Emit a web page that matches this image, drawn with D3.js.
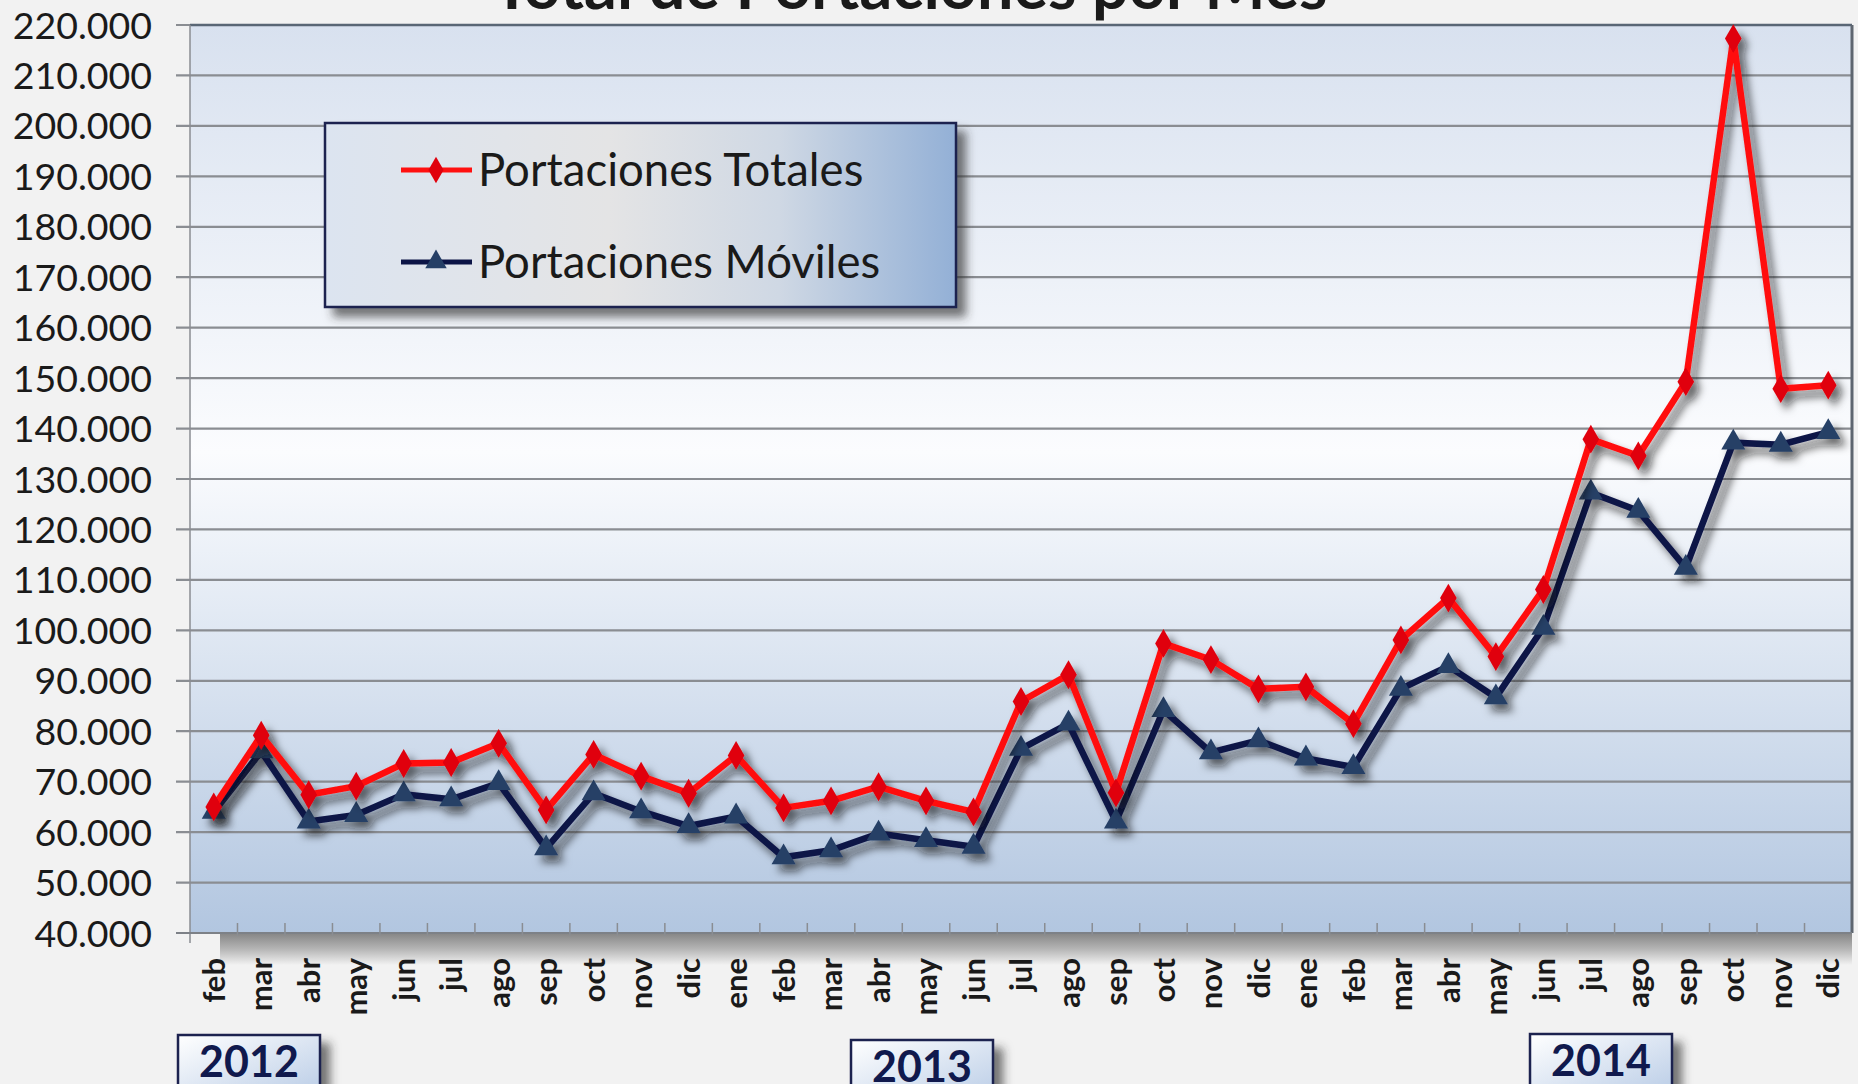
<!DOCTYPE html>
<html>
<head>
<meta charset="utf-8">
<script src="https://cdn.jsdelivr.net/npm/d3@7"></script>
<style>
  html, body { margin: 0; padding: 0; background: #f2f2f2; }
  svg { display: block; }
</style>
</head>
<body>
<svg id="chart" width="1858" height="1084"></svg>
<script>
// ---------- DATA ----------
const months = ["feb","mar","abr","may","jun","jul","ago","sep","oct","nov","dic",
                "ene","feb","mar","abr","may","jun","jul","ago","sep","oct","nov","dic",
                "ene","feb","mar","abr","may","jun","jul","ago","sep","oct","nov","dic"];
const categories = months.map((m, i) => i);
const totales = [65000, 79200, 67400, 69100, 73600, 73800, 77600, 64400, 75400, 71100, 67700,
                 75200, 64800, 66200, 69000, 66200, 64000, 85900, 91200, 67800, 97400, 94200, 88400,
                 88800, 81500, 98100, 106400, 94800, 108100, 137900, 134600, 149300, 217300, 147900, 148600];
const moviles = [64000, 76000, 62100, 63400, 67500, 66500, 69700, 56800, 67700, 64100, 61200,
                 63100, 55000, 56400, 59700, 58400, 57100, 76500, 81500, 62100, 84200, 75800, 78200,
                 74600, 72900, 88400, 92900, 86700, 100500, 127300, 123700, 112400, 137200, 136800, 139300];
const yTicks = [40000,50000,60000,70000,80000,90000,100000,110000,120000,130000,140000,
                150000,160000,170000,180000,190000,200000,210000,220000];
const yearLabels = ["2012","2013","2014"];
const seriesNames = ["Portaciones Totales","Portaciones Móviles"];
const titleText = "Total de Portaciones por Mes";

// ---------- LAYOUT ----------
const svg = d3.select("#chart");
const W = 1858, H = 1084;
const plot = {left: 190, right: 1852, top: 25, bottom: 933};

const x = d3.scaleBand().domain(categories).range([plot.left, plot.right]).padding(0);
const xc = i => x(i) + x.bandwidth() / 2;
const y = d3.scaleLinear().domain([40000, 220000]).range([plot.bottom, plot.top]);
const fmt = v => d3.format(",")(v).replace(/,/g, ".");

const defs = svg.append("defs");
const pg = defs.append("linearGradient").attr("id","plotGrad").attr("x1",0).attr("y1",0).attr("x2",0).attr("y2",1);
pg.append("stop").attr("offset","0").attr("stop-color","#d8e1ef");
pg.append("stop").attr("offset","0.47").attr("stop-color","#fbfcfe");
pg.append("stop").attr("offset","1").attr("stop-color","#b2c6e0");

const sg = defs.append("linearGradient").attr("id","shadowGrad").attr("x1",0).attr("y1",0).attr("x2",0).attr("y2",1);
sg.append("stop").attr("offset","0").attr("stop-color","#858585");
sg.append("stop").attr("offset","0.5").attr("stop-color","#b5b5b5");
sg.append("stop").attr("offset","1").attr("stop-color","#f2f2f2");

const lg = defs.append("linearGradient").attr("id","legGrad").attr("x1",0).attr("y1",0).attr("x2",1).attr("y2",0);
lg.append("stop").attr("offset","0").attr("stop-color","#dce4f0");
lg.append("stop").attr("offset","0.45").attr("stop-color","#e4e4e5");
lg.append("stop").attr("offset","0.72").attr("stop-color","#cfd8e4");
lg.append("stop").attr("offset","1").attr("stop-color","#93b0d6");

const yg = defs.append("linearGradient").attr("id","yearGrad").attr("x1",0).attr("y1",0).attr("x2",1).attr("y2",1);
yg.append("stop").attr("offset","0").attr("stop-color","#ffffff");
yg.append("stop").attr("offset","1").attr("stop-color","#b9cce6");

const ds = defs.append("filter").attr("id","lineShadow").attr("x","-10%").attr("y","-10%").attr("width","130%").attr("height","130%");
ds.append("feDropShadow").attr("dx",6).attr("dy",7).attr("stdDeviation",4).attr("flood-color","#111").attr("flood-opacity",0.65);

const bs = defs.append("filter").attr("id","boxShadow").attr("x","-10%").attr("y","-10%").attr("width","130%").attr("height","140%");
bs.append("feDropShadow").attr("dx",9).attr("dy",9).attr("stdDeviation",5).attr("flood-color","#333").attr("flood-opacity",0.65);

// background
svg.append("rect").attr("width",W).attr("height",H).attr("fill","#f2f2f2");

// title (mostly cut off at the top, as in the reference)
const title = svg.append("text").attr("x", 910).attr("y", 9).attr("text-anchor","middle")
  .attr("font-family","Lato, 'Open Sans', sans-serif").attr("font-weight","bold")
  .attr("font-size", 60).attr("fill","#1a1a1a").text(titleText);
{
  const L = title.node().getComputedTextLength();
  title.attr("font-size", 60 * 835 / L);
}

// plot shadow below axis
svg.append("rect").attr("x", plot.left + 30).attr("y", plot.bottom).attr("width", plot.right - plot.left - 30)
  .attr("height", 32).attr("fill","url(#shadowGrad)");

// plot area
svg.append("rect").attr("x", plot.left).attr("y", plot.top).attr("width", plot.right - plot.left)
  .attr("height", plot.bottom - plot.top).attr("fill","url(#plotGrad)");

// gridlines + y ticks
svg.append("g").selectAll("line").data(yTicks).join("line")
  .attr("x1", plot.left - 14).attr("x2", plot.right)
  .attr("y1", d => y(d)).attr("y2", d => y(d))
  .attr("stroke","#8a8d92").attr("stroke-width",2.2);

// plot borders
svg.append("line").attr("x1",plot.left).attr("x2",plot.right).attr("y1",plot.top).attr("y2",plot.top)
  .attr("stroke","#596675").attr("stroke-width",2.5);
svg.append("line").attr("x1",plot.right).attr("x2",plot.right).attr("y1",plot.top).attr("y2",plot.bottom)
  .attr("stroke","#5e6670").attr("stroke-width",3);
svg.append("line").attr("x1",plot.left).attr("x2",plot.left).attr("y1",plot.top).attr("y2",plot.bottom + 10)
  .attr("stroke","#8a8d92").attr("stroke-width",1.5);
svg.append("line").attr("x1",plot.left - 14).attr("x2",plot.right).attr("y1",plot.bottom).attr("y2",plot.bottom)
  .attr("stroke","#7d8187").attr("stroke-width",2);

// x ticks at band boundaries
svg.append("g").selectAll("line").data(categories.slice(1)).join("line")
  .attr("x1", d => x(d)).attr("x2", d => x(d))
  .attr("y1", plot.bottom - 10).attr("y2", plot.bottom + 3)
  .attr("stroke","#8a8d92").attr("stroke-width",1.5);

// y labels
svg.append("g").selectAll("text").data(yTicks).join("text")
  .attr("x", 152).attr("y", d => y(d)).attr("dy","0.36em")
  .attr("text-anchor","end")
  .attr("font-family","Lato, 'Open Sans', sans-serif").attr("font-size",37.5)
  .attr("fill","#1a1a1a").text(d => fmt(d));

// x labels
svg.append("g").selectAll("text").data(categories).join("text")
  .attr("transform", d => `translate(${xc(d)},958) rotate(-90)`)
  .attr("dy","0.36em").attr("text-anchor","end")
  .attr("font-family","Lato, 'Open Sans', sans-serif").attr("font-weight","bold").attr("font-size",31)
  .attr("fill","#1a1a1a").text(d => months[d]);

// series lines
const lineGen = d3.line().x((d, i) => xc(i)).y(d => y(d));
const series = [
  {values: totales, stroke: "#ff1010", marker: d3.symbolDiamond, mfill: "#e0000c", msize: 240},
  {values: moviles, stroke: "#0c1446", marker: d3.symbolTriangle, mfill: "#253f66", msize: 250}
];
// draw moviles first then totales on top
[series[1], series[0]].forEach(s => {
  const g = svg.append("g").attr("filter","url(#lineShadow)");
  g.append("path").datum(s.values).attr("d", lineGen)
    .attr("fill","none").attr("stroke", s.stroke).attr("stroke-width",6.5)
    .attr("stroke-linejoin","miter");
  g.selectAll("path.m").data(s.values).join("path").attr("class","m")
    .attr("transform", (d, i) => `translate(${xc(i)},${y(d)})`)
    .attr("d", d3.symbol().type(s.marker).size(s.msize))
    .attr("fill", s.mfill);
});

// legend
const leg = svg.append("g");
leg.append("rect").attr("x",325).attr("y",123).attr("width",631).attr("height",184)
  .attr("fill","url(#legGrad)").attr("stroke","#1a2050").attr("stroke-width",2.5)
  .attr("filter","url(#boxShadow)");
const legRows = [{y:170, s: series[0]}, {y:262, s: series[1]}];
legRows.forEach((r, i) => {
  leg.append("line").attr("x1",401).attr("x2",472).attr("y1",r.y).attr("y2",r.y)
    .attr("stroke", r.s.stroke).attr("stroke-width",5);
  leg.append("path").attr("transform",`translate(436,${r.y})`)
    .attr("d", d3.symbol().type(r.s.marker).size(200)).attr("fill", r.s.mfill);
  leg.append("text").attr("x",478).attr("y",r.y).attr("dy","0.36em")
    .attr("font-family","Lato, 'Open Sans', sans-serif").attr("font-size",45.5)
    .attr("fill","#1a1a1a").text(seriesNames[i]);
});

// year boxes
const yearCenters = [249, 922, 1601];
const yearTops = [1035, 1040, 1034];
yearLabels.forEach((lab, i) => {
  const g = svg.append("g");
  g.append("rect").attr("x", yearCenters[i] - 71).attr("y", yearTops[i]).attr("width",142).attr("height",62)
    .attr("fill","url(#yearGrad)").attr("stroke","#1a2050").attr("stroke-width",2.5)
    .attr("filter","url(#boxShadow)");
  g.append("text").attr("x", yearCenters[i]).attr("y", yearTops[i] + 42).attr("text-anchor","middle")
    .attr("font-family","Lato, 'Open Sans', sans-serif").attr("font-weight","bold").attr("font-size",43)
    .attr("fill","#10194d").text(lab);
});
</script>
</body>
</html>
